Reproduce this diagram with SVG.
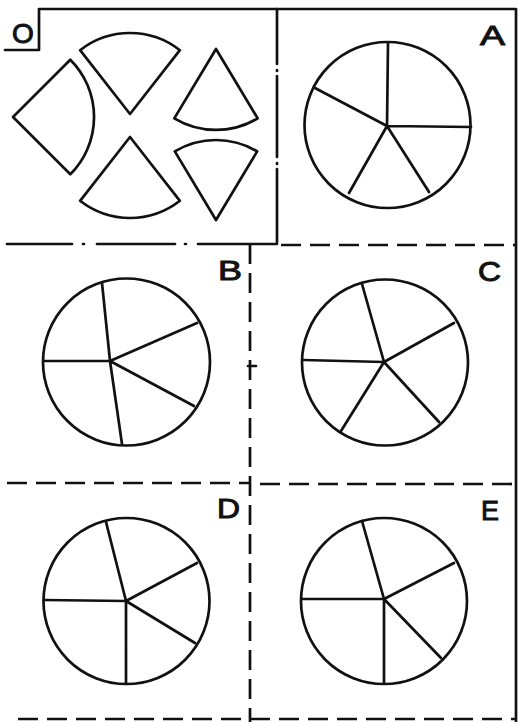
<svg xmlns="http://www.w3.org/2000/svg" width="518" height="722" viewBox="0 0 518 722">
<style>
.ln{fill:none;stroke:#111;stroke-width:2.7;stroke-linecap:round;stroke-linejoin:round}
.sh{fill:#fff;stroke:#111;stroke-width:2.7;stroke-linejoin:round}
.dash{fill:none;stroke:#111;stroke-width:2.7;stroke-dasharray:20 9}
.lbl{font-family:"Liberation Sans",Arial,sans-serif;font-size:28px;fill:#111;stroke:#111;stroke-width:1}
</style>
<rect width="518" height="722" fill="#fff"/>
<g id="frame">
  <polyline class="ln" points="5,50 39,50 39,9 516,9 516,722"/>
  <path class="ln" d="M277,9 V64 M277,70 V71 M277,76 V157 M277,163 V164 M277,169 V242"/>
  <path class="ln" d="M7,244 H72 M83,244 H84 M97,244 H175 M185,244 H186 M198,244 H277"/>
  <line class="dash" x1="250" y1="244" x2="250" y2="722"/>
  <line class="ln" x1="248" y1="366" x2="256" y2="366"/>
  <line class="dash" x1="281" y1="245" x2="516" y2="245"/>
  <line class="dash" x1="7" y1="483" x2="250" y2="483"/>
  <line class="dash" x1="260" y1="484" x2="516" y2="484"/>
  <line class="dash" x1="18" y1="719" x2="516" y2="719"/>
</g>
<g id="panel-O">
  <text class="lbl" x="12" y="43" font-size="29" stroke-width="1.4">O</text>
  <path class="sh" d="M13,117 L70.3,59.7 A81,81 0 0 1 70.3,174.3 Z"/>
  <path class="sh" d="M130,114 L80.1,50.2 A81,81 0 0 1 179.9,50.2 Z"/>
  <path class="sh" d="M130,137 L80.1,200.8 A81,81 0 0 0 179.9,200.8 Z"/>
  <path class="sh" d="M216,49 L174.3,118.4 A81,81 0 0 0 257.7,118.4 Z"/>
  <path class="sh" d="M216,220 L174.8,151.4 A80,80 0 0 1 257.2,151.4 Z"/>
</g>
<g id="panel-A">
  <text class="lbl" x="480" y="45" textLength="25" lengthAdjust="spacingAndGlyphs">A</text>
  <circle class="ln" cx="387.5" cy="125" r="83"/>
  <path class="ln" d="M387,126 L388,43 M387,126 L471,127 M387,126 L429,192 M387,126 L349,193 M387,126 L315,88"/>
</g>
<g id="panel-B">
  <text class="lbl" x="218" y="280" textLength="24" lengthAdjust="spacingAndGlyphs">B</text>
  <circle class="ln" cx="126.5" cy="362" r="83.5"/>
  <path class="ln" d="M110,361 L102,283 M110,361 L197,323 M110,361 L194,406 M110,361 L122,444 M110,361 L44,361"/>
</g>
<g id="panel-C">
  <text class="lbl" x="478" y="281" textLength="23" lengthAdjust="spacingAndGlyphs">C</text>
  <circle class="ln" cx="385" cy="362.5" r="83"/>
  <path class="ln" d="M384,362 L362,284 M384,362 L454,323 M384,362 L439,422 M384,362 L341,431 M384,362 L303,360"/>
</g>
<g id="panel-D">
  <text class="lbl" x="217" y="518" textLength="23" lengthAdjust="spacingAndGlyphs">D</text>
  <circle class="ln" cx="126.5" cy="601" r="83"/>
  <path class="ln" d="M126,601 L106,522 M126,601 L197,563 M126,601 L195,643 M126,601 L126,683 M126,601 L44,600"/>
</g>
<g id="panel-E">
  <text class="lbl" x="481" y="520" textLength="18" lengthAdjust="spacingAndGlyphs">E</text>
  <circle class="ln" cx="384" cy="601" r="83"/>
  <path class="ln" d="M384,599 L362,521 M384,599 L454,563 M384,599 L441,658 M384,599 L384,683 M384,599 L302,599"/>
</g>
</svg>
